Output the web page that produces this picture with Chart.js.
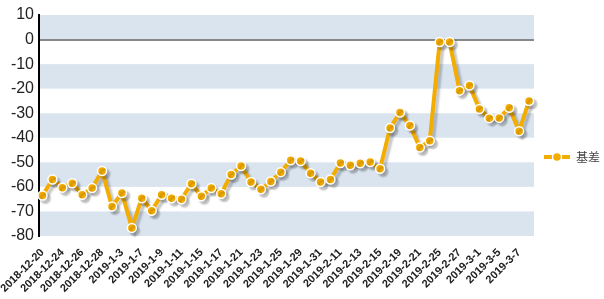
<!DOCTYPE html>
<html>
<head>
<meta charset="utf-8">
<script src="https://cdn.jsdelivr.net/npm/chart.js@4/dist/chart.umd.min.js"></script>
<style>
  html, body { margin:0; padding:0; background:#fff; }
  #wrap { width:604px; height:299px; }
</style>
</head>
<body>
<div id="wrap"><canvas id="chart"></canvas></div>
<script>
const seriesName = "基差";

const dates = [
  "2018-12-20","2018-12-21","2018-12-24","2018-12-25","2018-12-26","2018-12-27","2018-12-28",
  "2019-1-2","2019-1-3","2019-1-4","2019-1-7","2019-1-8","2019-1-9","2019-1-10","2019-1-11",
  "2019-1-14","2019-1-15","2019-1-16","2019-1-17","2019-1-18","2019-1-21","2019-1-22","2019-1-23",
  "2019-1-24","2019-1-25","2019-1-28","2019-1-29","2019-1-30","2019-1-31","2019-2-1","2019-2-11",
  "2019-2-12","2019-2-13","2019-2-14","2019-2-15","2019-2-18","2019-2-19","2019-2-20","2019-2-21",
  "2019-2-22","2019-2-25","2019-2-26","2019-2-27","2019-2-28","2019-3-1","2019-3-4","2019-3-5",
  "2019-3-6","2019-3-7","2019-3-8"
];

const basis = [
  -63.5, -57, -60.3, -58.5, -63.2, -60.5, -53.5,
  -68, -62.5, -76.7, -64.6, -69.7, -63.2, -64.6, -65,
  -58.7, -63.8, -60.5, -62.8, -55, -51.5, -58, -61,
  -57.8, -54, -49.2, -49.5, -54.4, -58, -57, -50.3,
  -51.2, -50.4, -49.9, -52.6, -36, -29.7, -35, -44,
  -41.2, -1, -1, -20.8, -18.7, -28.3, -32, -31.9,
  -27.8, -37.3, -25
];

const yTicks = [10, 0, -10, -20, -30, -40, -50, -60, -70, -80];

const lineColor = "#f3ac00";
const bandColor = "#dae4ef";

// legend icon: thick line with a dot in the middle
function legendIcon() {
  const c = document.createElement("canvas");
  c.width = 26; c.height = 12;
  const g = c.getContext("2d");
  g.strokeStyle = lineColor;
  g.lineWidth = 4;
  g.beginPath(); g.moveTo(0, 6); g.lineTo(26, 6); g.stroke();
  g.beginPath(); g.arc(13, 6, 4.5, 0, Math.PI * 2);
  g.fillStyle = lineColor; g.fill();
  g.lineWidth = 1.5; g.strokeStyle = "#fff"; g.stroke();
  return c;
}

const bands = {
  id:"bands",
  beforeDraw(chart) {
    const { ctx, chartArea:a, scales:{ y } } = chart;
    ctx.save();
    ctx.fillStyle = bandColor;
    for (let i = 0; i + 1 < yTicks.length; i += 2) {
      const top = y.getPixelForValue(yTicks[i]);
      const bot = y.getPixelForValue(yTicks[i + 1]);
      ctx.fillRect(a.left, top, a.right - a.left, bot - top);
    }
    ctx.restore();
  }
};

const shadow = {
  id:"shadow",
  beforeDatasetsDraw(chart) {
    const ctx = chart.ctx;
    ctx.save();
    ctx.shadowColor = "rgba(0,0,0,0.22)";
    ctx.shadowOffsetX = 3;
    ctx.shadowOffsetY = 3;
    ctx.shadowBlur = 2;
  },
  afterDatasetsDraw(chart) {
    chart.ctx.restore();
  }
};

new Chart(document.getElementById("chart"), {
  type:"line",
  data:{
    datasets:[{
      label:seriesName,
      data:basis.map((v, i) => ({ x:i, y:v })),
      borderColor:lineColor,
      backgroundColor:lineColor,
      borderWidth:4,
      pointRadius:4.5,
      pointBorderWidth:1.5,
      pointBorderColor:"#fff",
      pointBackgroundColor:lineColor,
      tension:0,
      clip:10
    }]
  },
  options:{
    responsive:true,
    maintainAspectRatio:false,
    animation:false,
    layout:{ padding:{ top:15, right:-6, left:0, bottom:0 } },
    plugins:{
      legend:{
        position:"right",
        labels:{
          usePointStyle:true,
          pointStyleWidth:26,
          color:"#444",
          font:{ family:"'Noto Sans CJK SC', sans-serif", size:12 },
          generateLabels(chart) {
            const items = Chart.defaults.plugins.legend.labels.generateLabels(chart);
            items.forEach(it => { it.pointStyle = legendIcon(); });
            return items;
          }
        }
      },
      tooltip:{ enabled:false }
    },
    scales:{
      x:{
        type:"linear",
        min:-0.35,
        max:49.5,
        grid:{ display:false },
        border:{ display:false },
        afterBuildTicks(scale) {
          scale.ticks = dates.map((d, i) => ({ value:i })).filter(t => t.value % 2 === 0);
        },
        afterFit(scale) {
          scale.height = 63;
          scale.paddingLeft = 0;
          scale.paddingRight = 0;
        },
        ticks:{
          autoSkip:false,
          minRotation:45,
          maxRotation:45,
          padding:2,
          color:"#222",
          font:{ family:"'Liberation Sans', Arial, sans-serif", size:11, weight:"bold" },
          callback:v => dates[v]
        }
      },
      y:{
        min:-80,
        max:10,
        afterBuildTicks(scale) {
          scale.ticks = yTicks.map(v => ({ value:v }));
        },
        afterFit(scale) { scale.width = 39; },
        border:{ display:true, color:"#000", width:2 },
        grid:{
          drawTicks:false,
          color:c => c.tick && c.tick.value === 0 ? "#888" : "rgba(0,0,0,0)",
          lineWidth:2
        },
        ticks:{
          padding:5,
          color:"#222",
          font:{ family:"'Liberation Sans', Arial, sans-serif", size:16 }
        }
      }
    }
  },
  plugins:[bands, shadow]
});
</script>
</body>
</html>
